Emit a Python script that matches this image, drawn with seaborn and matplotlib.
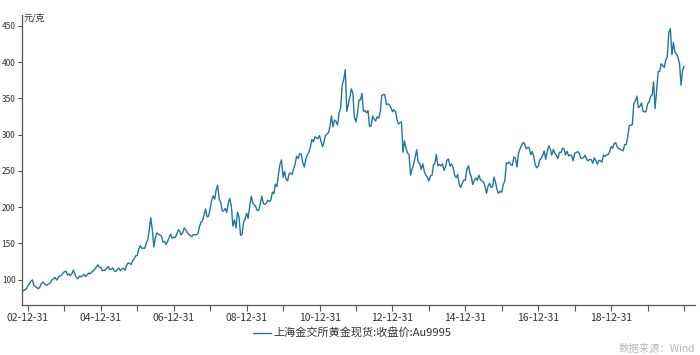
import matplotlib
matplotlib.use("Agg")
import matplotlib.pyplot as plt
import matplotlib.dates as mdates
import numpy as np
import pandas as pd
import seaborn as sns

sns.set_theme(style="ticks")
plt.rcParams['font.family'] = ['Noto Sans CJK SC', 'DejaVu Sans']

# ---- data (semi-monthly readings, CNY per gram) ----
series_name = "上海金交所黄金现货:收盘价:Au9995"
unit_label = "元/克"
source_label = "数据来源：Wind"
tick_labels = ["02-12-31", "04-12-31", "06-12-31", "08-12-31", "10-12-31",
               "12-12-31", "14-12-31", "16-12-31", "18-12-31"]

dates_2002 = ["2002-10-30", "2002-11-15", "2002-11-30", "2002-12-15", "2002-12-31"]
p2002 = [84.0, 84.5, 86.0, 87.0, 91.5]
p2003 = [94.7, 97.9, 99.5, 92.3, 90.5, 88.9, 87.3, 89.7, 94.5, 96.6, 94.5, 92.0,
         93.1, 94.2, 95.8, 99.8, 101.0, 103.0, 99.3, 102.7, 105.0, 105.6, 108.3, 110.7]
p2004 = [111.8, 106.4, 107.8, 105.4, 107.8, 113.1, 107.2, 103.2, 101.1, 104.8, 103.8, 105.1,
         107.2, 104.0, 106.4, 109.1, 107.8, 110.4, 111.8, 113.9, 117.1, 120.3, 117.1, 116.6]
p2005 = [112.3, 112.6, 113.4, 115.8, 117.9, 113.9, 113.9, 116.0, 111.8, 111.2, 113.9, 116.0,
         112.3, 114.4, 115.7, 112.8, 119.6, 123.0, 122.2, 120.9, 126.0, 128.7, 132.6, 133.4]
p2006 = [142.2, 146.8, 143.2, 143.4, 143.1, 150.0, 154.5, 168.4, 185.5, 168.2, 145.0, 157.7,
         164.5, 162.6, 161.4, 159.6, 151.6, 152.4, 148.4, 152.9, 157.6, 162.9, 156.9, 158.7]
p2007 = [157.8, 162.8, 168.5, 167.2, 161.5, 164.5, 171.3, 168.8, 165.2, 162.0, 160.6, 159.4,
         162.0, 162.0, 161.7, 163.6, 172.8, 179.3, 180.8, 189.0, 197.5, 186.4, 187.6, 197.3]
p2008 = [209.0, 215.5, 210.9, 223.8, 230.0, 211.3, 206.9, 194.5, 194.9, 198.2, 192.7, 206.0,
         211.9, 200.5, 173.6, 182.4, 171.2, 193.2, 186.7, 161.0, 162.4, 178.9, 183.5, 191.2]
p2009 = [184.5, 202.0, 215.0, 207.0, 203.1, 201.2, 195.4, 195.4, 203.1, 215.2, 205.3, 203.6,
         205.3, 209.5, 207.5, 209.7, 220.7, 218.5, 231.7, 228.4, 246.0, 259.1, 265.0, 240.9]
p2010 = [249.2, 238.3, 236.1, 245.5, 247.1, 244.9, 252.5, 259.1, 270.1, 266.8, 273.4, 273.4,
         261.6, 255.1, 265.5, 272.0, 275.4, 282.3, 293.2, 290.0, 296.8, 295.7, 294.3, 298.6]
p2011 = [290.4, 283.0, 290.8, 298.2, 300.7, 302.8, 311.1, 325.8, 310.7, 320.0, 318.2, 313.0,
         329.9, 337.2, 367.8, 376.1, 389.5, 332.1, 341.5, 351.7, 363.1, 357.0, 323.8, 317.7]
p2012 = [329.0, 348.0, 348.0, 357.0, 332.0, 333.0, 330.0, 333.0, 311.0, 312.0, 325.6, 321.6,
         318.6, 324.6, 322.6, 331.7, 354.0, 355.0, 355.0, 341.3, 342.3, 341.3, 337.3, 331.3]
p2013 = [334.3, 331.3, 320.4, 314.4, 316.4, 317.4, 275.5, 291.3, 281.4, 274.5, 272.6, 243.9,
         252.5, 259.4, 269.2, 279.0, 261.3, 260.4, 251.9, 259.7, 248.9, 244.0, 241.1, 236.2]
p2014 = [242.8, 243.8, 258.7, 259.7, 272.6, 256.7, 258.7, 256.7, 259.6, 250.6, 255.6, 264.7,
         266.3, 256.4, 259.4, 254.4, 243.5, 240.6, 244.9, 231.1, 227.0, 233.0, 237.0, 237.0]
p2015 = [252.0, 257.0, 246.0, 242.4, 231.0, 237.0, 240.0, 237.0, 244.0, 238.0, 236.0, 234.4,
         229.0, 219.0, 228.6, 232.7, 227.0, 228.0, 241.3, 233.1, 223.0, 218.9, 222.0, 220.4]
p2016 = [230.5, 236.5, 261.0, 260.0, 262.3, 258.1, 257.5, 269.0, 267.8, 255.2, 273.5, 279.8,
         284.6, 288.9, 287.8, 280.3, 282.0, 282.0, 272.3, 276.7, 269.5, 258.5, 254.2, 256.5]
p2017 = [265.2, 267.4, 271.8, 277.4, 265.8, 276.9, 284.6, 280.2, 271.7, 279.4, 274.2, 271.4,
         266.9, 275.6, 275.0, 281.4, 279.8, 271.8, 276.9, 270.5, 272.0, 271.0, 263.8, 274.3]
p2018 = [275.4, 276.4, 274.1, 267.6, 267.3, 268.3, 271.7, 265.6, 263.8, 265.9, 265.2, 260.4,
         267.8, 264.0, 259.0, 264.5, 264.0, 261.8, 272.0, 269.7, 272.0, 272.5, 275.8, 283.5]
p2019 = [281.2, 287.8, 288.8, 283.4, 280.8, 279.7, 278.6, 277.6, 286.2, 286.2, 296.8, 312.3,
         312.7, 313.8, 342.8, 346.2, 353.0, 337.0, 339.0, 343.5, 332.2, 331.1, 331.9, 342.0]
p2020 = [344.9, 352.7, 354.7, 372.7, 336.0, 361.0, 386.8, 386.8, 397.6, 395.3, 392.4, 402.7,
         407.3, 441.0, 446.0, 410.0, 427.0, 412.8, 411.5, 406.0, 398.3, 368.0, 388.5, 394.0]

yearly = [p2003, p2004, p2005, p2006, p2007, p2008, p2009, p2010, p2011,
          p2012, p2013, p2014, p2015, p2016, p2017, p2018, p2019, p2020]

dates = list(pd.to_datetime(dates_2002))
values = list(p2002)
for i, vals in enumerate(yearly):
    yr = 2003 + i
    for m in range(1, 13):
        dates.append(pd.Timestamp(yr, m, 15))
        dates.append(pd.Timestamp(yr, m, 1) + pd.offsets.MonthEnd(0))
    values.extend(vals)

df = pd.DataFrame({"date": dates, "price": values, "series": series_name})

# ---- figure ----
fig = plt.figure(figsize=(7.0, 3.55), dpi=100)
ax = fig.add_axes([0.031, 0.141, 0.962, 0.817])

line_color = "#22789c"
sns.lineplot(data=df, x="date", y="price", ax=ax, color=line_color,
             linewidth=1.0, label=series_name, legend=False)

ax.set_xlim(pd.Timestamp("2002-10-30"), pd.Timestamp("2021-04-20"))
ax.set_ylim(65, 465)
ax.set_yticks([100, 150, 200, 250, 300, 350, 400, 450])

major = [pd.Timestamp(2002 + 2 * i, 12, 31) for i in range(len(tick_labels))]
minor = [pd.Timestamp(y, 12, 31) for y in range(2003, 2021)]
ax.set_xticks(major)
ax.set_xticklabels(tick_labels)
ax.set_xticks(minor, minor=True)

ax.set_xlabel("")
ax.set_ylabel("")
ax.grid(False)
sns.despine(ax=ax)
for s in ["left", "bottom"]:
    ax.spines[s].set_color("#555555")
    ax.spines[s].set_linewidth(0.9)
ax.tick_params(axis="y", which="major", length=3, width=0.8, color="#555555",
               labelsize=6, labelcolor="#333333", pad=1.5)
ax.tick_params(axis="x", which="both", length=4, width=0.8, color="#555555",
               labelsize=7.5, labelcolor="#333333", pad=2)

ax.annotate(unit_label, xy=(0, 1), xycoords="axes fraction", xytext=(1.5, -2),
            textcoords="offset points", ha="left", va="center",
            fontsize=6.5, color="#333333")

handles = [plt.Line2D([], [], color=line_color, linewidth=1.0)]
fig.legend(handles, [series_name], loc="center", bbox_to_anchor=(0.503, 0.062),
           frameon=False, fontsize=8, handlelength=1.7, handletextpad=0.2,
           labelcolor="#333333")

fig.text(0.993, 0.017, source_label, ha="right", va="center",
         fontsize=7.5, color="#b8b8b8")

fig.savefig("out.png", dpi=100)
